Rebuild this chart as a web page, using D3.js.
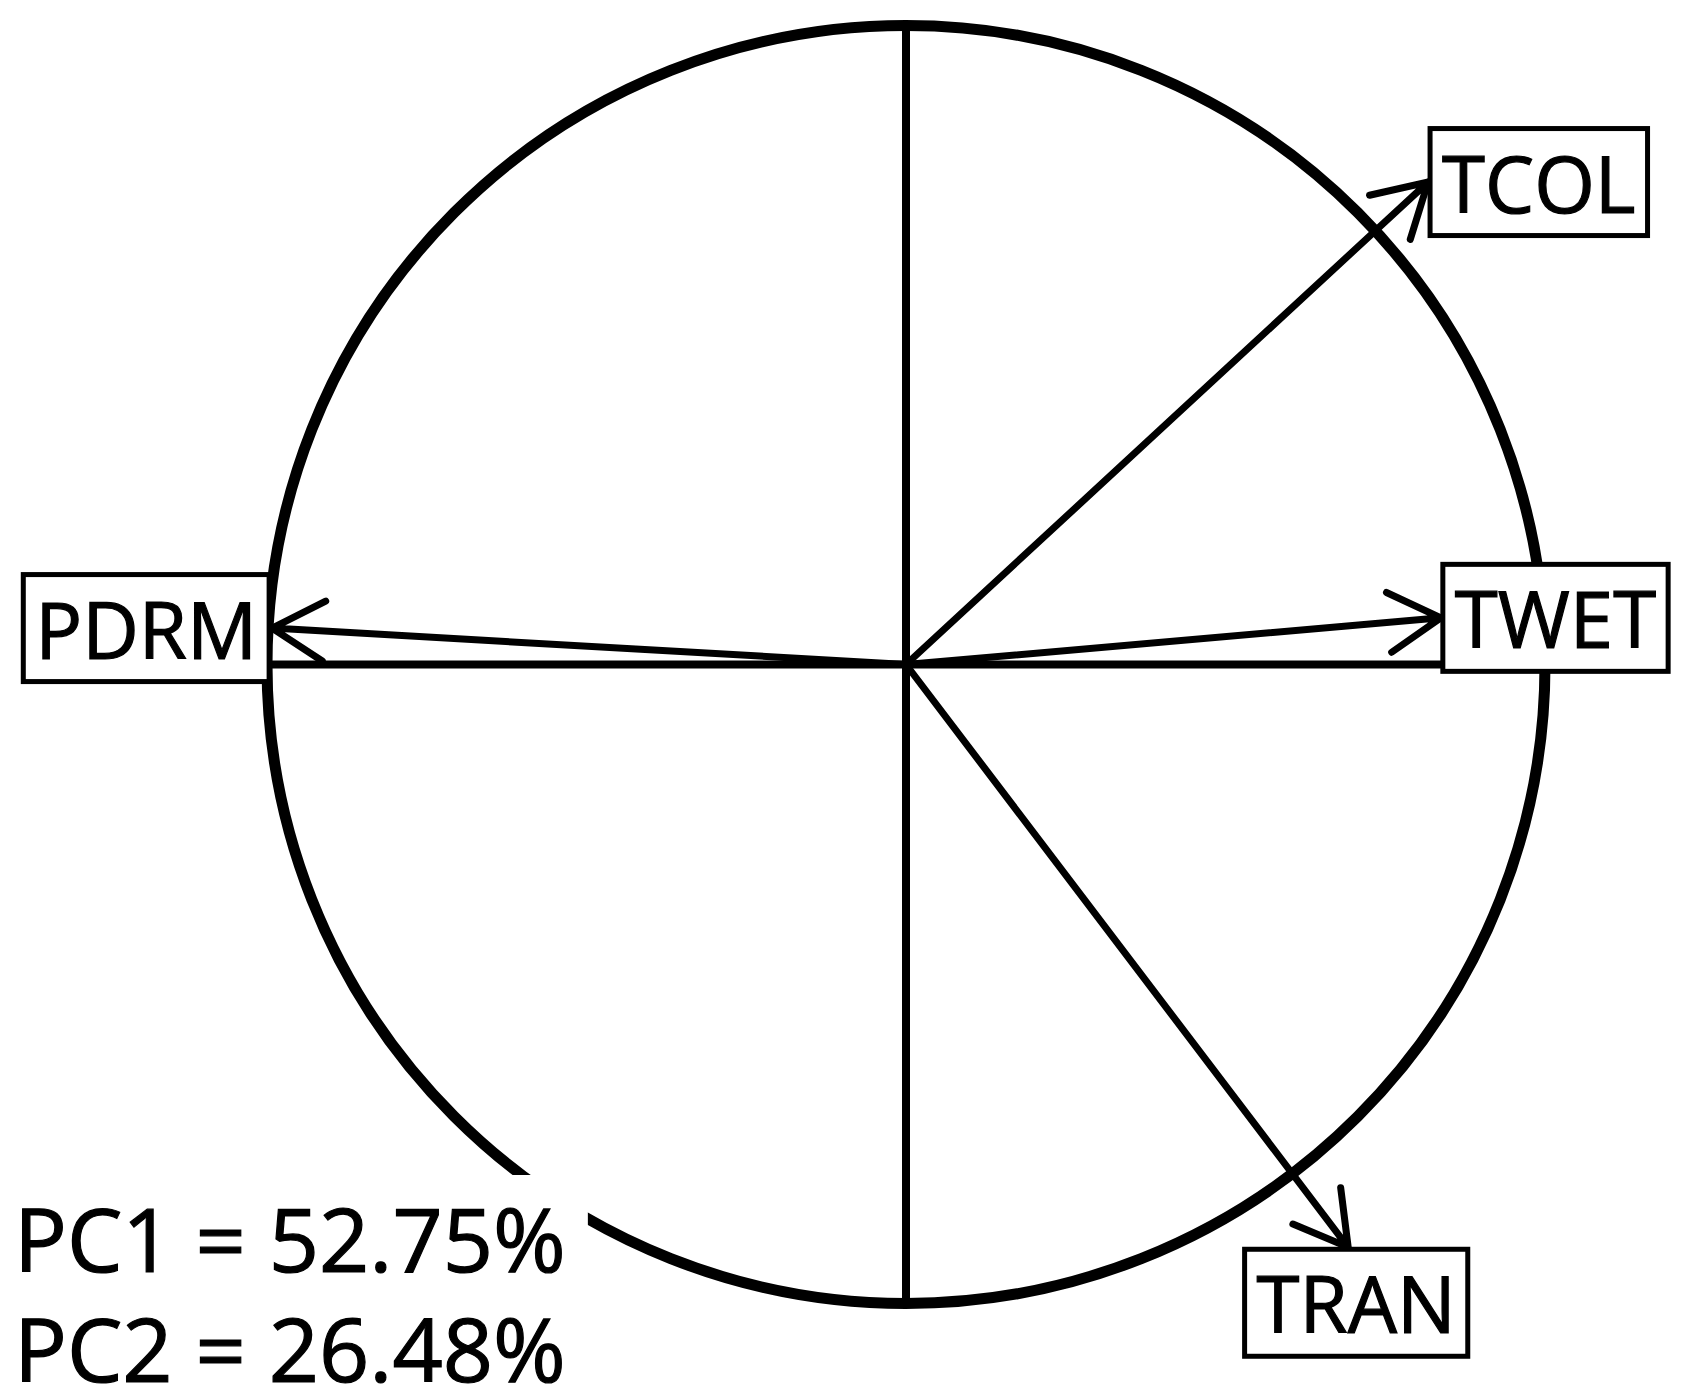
<!DOCTYPE html>
<html>
<head>
<meta charset="utf-8">
<script src="https://cdn.jsdelivr.net/npm/d3@7"></script>
<style>
  body { margin: 0; background: #fff; }
  text { font-family: "Open Sans", "Noto Sans", sans-serif; fill: #000; stroke: #000; stroke-width: 1.2px; }
</style>
</head>
<body>
<script>

// loadings (unit circle coordinates)
var variables = ["TCOL", "TWET", "TRAN", "PDRM"];
var pc1Loadings = [0.817, 0.837, 0.692, -0.992];
var pc2Loadings = [0.755, 0.073, -0.912, 0.057];

var pcNames = ["PC1", "PC2"];
var pcVariance = [52.75, 26.48];

var width = 1700,
    height = 1397,
    cx = 906,
    cy = 664.5,
    radius = 639;

var x = d3.scaleLinear().domain([-1, 1]).range([cx - radius, cx + radius]);
var y = d3.scaleLinear().domain([-1, 1]).range([cy + radius, cy - radius]);

var svg = d3.select("body").append("svg")
    .attr("width", width)
    .attr("height", height);

svg.append("rect")
    .attr("width", width)
    .attr("height", height)
    .attr("fill", "#fff");

// axes
svg.append("line")
    .attr("x1", x(0)).attr("x2", x(0))
    .attr("y1", y(1)).attr("y2", y(-1))
    .attr("stroke", "#000").attr("stroke-width", 8);

svg.append("line")
    .attr("x1", x(-1)).attr("x2", x(1))
    .attr("y1", y(0)).attr("y2", y(0))
    .attr("stroke", "#000").attr("stroke-width", 8);

// correlation circle
svg.append("circle")
    .attr("cx", x(0))
    .attr("cy", y(0))
    .attr("r", x(1) - x(0))
    .attr("fill", "none")
    .attr("stroke", "#000")
    .attr("stroke-width", 11);

// arrows
var data = variables.map(function(v, i) {
    return { name: v, pc1: pc1Loadings[i], pc2: pc2Loadings[i] };
});

var headLen = 60,
    headAngle = Math.PI / 6;

var arrows = svg.append("g")
    .attr("stroke", "#000")
    .attr("stroke-width", 7)
    .attr("stroke-linecap", "round")
    .attr("fill", "none");

data.forEach(function(d) {
    var tx = x(d.pc1), ty = y(d.pc2);
    var ang = Math.atan2(ty - y(0), tx - x(0));
    var path = d3.path();
    path.moveTo(x(0), y(0));
    path.lineTo(tx, ty);
    path.moveTo(tx - headLen * Math.cos(ang - headAngle), ty - headLen * Math.sin(ang - headAngle));
    path.lineTo(tx, ty);
    path.lineTo(tx - headLen * Math.cos(ang + headAngle), ty - headLen * Math.sin(ang + headAngle));
    arrows.append("path").attr("d", path.toString());
});

// labelled boxes at the arrow tips
var fontSize = 78,
    boxH = 107,
    padX = 12,
    baseOff = 84;

data.forEach(function(d) {
    var tx = x(d.pc1), ty = y(d.pc2);
    var dx = tx - x(0), dy = ty - y(0);
    var g = svg.append("g");
    var rect = g.append("rect");
    var t = g.append("text")
        .attr("font-size", fontSize)
        .text(d.name);
    var tw = t.node().getComputedTextLength();
    var boxW = tw + 2 * padX;
    var bx, by;
    if (Math.abs(dx) > Math.abs(dy)) {
        bx = dx > 0 ? tx + 2 : tx - 3 - boxW;
        by = ty - boxH / 2;
    } else {
        bx = tx - boxW / 2 + 8;
        by = dy > 0 ? ty + 2 : ty - 2 - boxH;
    }
    rect.attr("x", bx).attr("y", by)
        .attr("width", boxW).attr("height", boxH)
        .attr("fill", "#fff")
        .attr("stroke", "#000")
        .attr("stroke-width", 5);
    t.attr("x", bx + padX).attr("y", by + baseOff);
});

// explained variance
var note = svg.append("g");
var noteBg = note.append("rect").attr("fill", "#fff");
pcNames.forEach(function(p, i) {
    note.append("text")
        .attr("x", 14)
        .attr("y", 1272 + i * 110)
        .attr("font-size", 88)
        .text(p + " = " + pcVariance[i].toFixed(2) + "%");
});
var bb = note.node().getBBox();
noteBg.attr("x", bb.x)
    .attr("y", 1175)
    .attr("width", bb.width + 22)
    .attr("height", height - 1175);

</script>
</body>
</html>
